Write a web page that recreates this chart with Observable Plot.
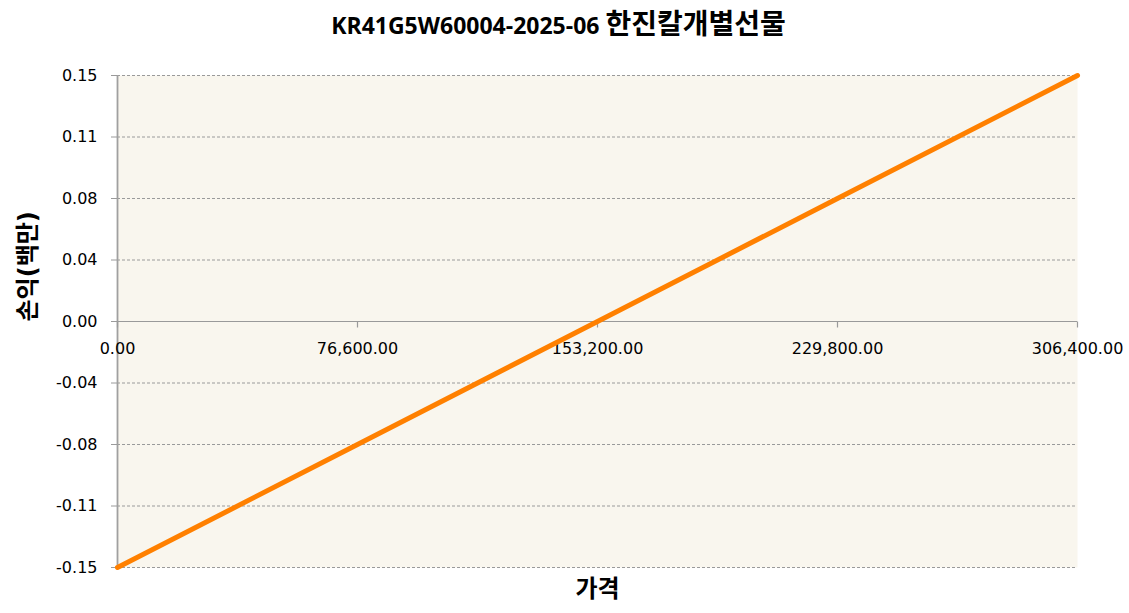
<!DOCTYPE html>
<html><head><meta charset="utf-8">
<script src="https://cdn.jsdelivr.net/npm/d3@7"></script>
<script src="https://cdn.jsdelivr.net/npm/@observablehq/plot@0.6"></script>
<style>
body{margin:0;background:#fff;font-family:"DejaVu Sans","Noto Sans CJK KR",sans-serif;}
#title{width:1129px;height:50px;line-height:44px;text-align:center;font-weight:bold;color:#000;padding-right:12px;box-sizing:border-box;white-space:nowrap;}
#title .lat{font-family:"Open Sans",sans-serif;font-size:23px;font-weight:bold;}
#title .kor{font-family:"Noto Sans CJK KR",sans-serif;font-size:28px;font-weight:bold;}
#chart svg{display:block;}
</style></head><body>
<div id="title"><span class="lat"></span><span class="kor"></span></div>
<div id="chart"></div>
<script>
const chartTitleCode = "KR41G5W60004-2025-06 ";
const chartTitleName = "한진칼개별선물";
const xLabel = "가격";
const yLabel = "손익(백만)";
const prices = [0, 76600, 153200, 229800, 306400];
const pnl = [-0.15, -0.075, 0, 0.075, 0.15];
const xTicks = [0, 76600, 153200, 229800, 306400];
const xTickLabels = ["0.00", "76,600.00", "153,200.00", "229,800.00", "306,400.00"];
const yTicks = [-0.15, -0.1125, -0.075, -0.0375, 0, 0.0375, 0.075, 0.1125, 0.15];
const yTickLabels = ["-0.15", "-0.11", "-0.08", "-0.04", "0.00", "0.04", "0.08", "0.11", "0.15"];

document.querySelector("#title .lat").textContent = chartTitleCode;
document.querySelector("#title .kor").textContent = chartTitleName;

const data = prices.map((p, i) => ({price: p, pnl: pnl[i]}));
const tickDown = {draw(ctx) { ctx.moveTo(0, 0); ctx.lineTo(0, 6); }};
const fontFamily = '"DejaVu Sans","Noto Sans CJK KR",sans-serif';

const chart = Plot.plot({
  width: 1129,
  height: 563,
  marginTop: 25,
  marginBottom: 46,
  marginLeft: 117,
  marginRight: 52,
  style: {fontFamily, fontSize: "16px", color: "#000", background: "#fff"},
  x: {domain: [0, 306400], axis: null},
  y: {domain: [-0.15, 0.15], axis: null},
  marks: [
    Plot.frame({fill: "#F9F6EE", stroke: null}),
    Plot.ruleY(yTicks.filter(d => d !== 0), {stroke: "#9a9a9a", strokeDasharray: "3,2", strokeWidth: 1}),
    Plot.ruleY([0], {stroke: "#9a9a9a", strokeWidth: 1.2}),
    Plot.ruleX([0], {stroke: "#a0a0a0", strokeWidth: 1.8}),
    Plot.axisY({ticks: yTicks, tickSize: 6, tickPadding: 14, stroke: "#9a9a9a",
      tickFormat: d => yTickLabels[yTicks.indexOf(d)], fontSize: 16, fill: "#000", label: null}),
    Plot.dot(xTicks, {x: d => d, y: () => 0, symbol: tickDown, stroke: "#9a9a9a", strokeWidth: 1.2, r: 3}),
    Plot.text(xTicks, {x: d => d, y: () => 0, text: (d, i) => xTickLabels[i], dy: 27, fontSize: 16, fill: "#000"}),
    Plot.line(data, {x: "price", y: "pnl", stroke: "#FF8000", strokeWidth: 5}),
    Plot.text([xLabel], {frameAnchor: "bottom", dy: 29, fontSize: 24, fontWeight: "bold", fill: "#000"}),
    Plot.text([yLabel], {frameAnchor: "left", dx: -89, rotate: -90, fontSize: 24, fontWeight: "bold", fill: "#000"})
  ]
});
document.getElementById("chart").appendChild(chart);
</script>
</body></html>
